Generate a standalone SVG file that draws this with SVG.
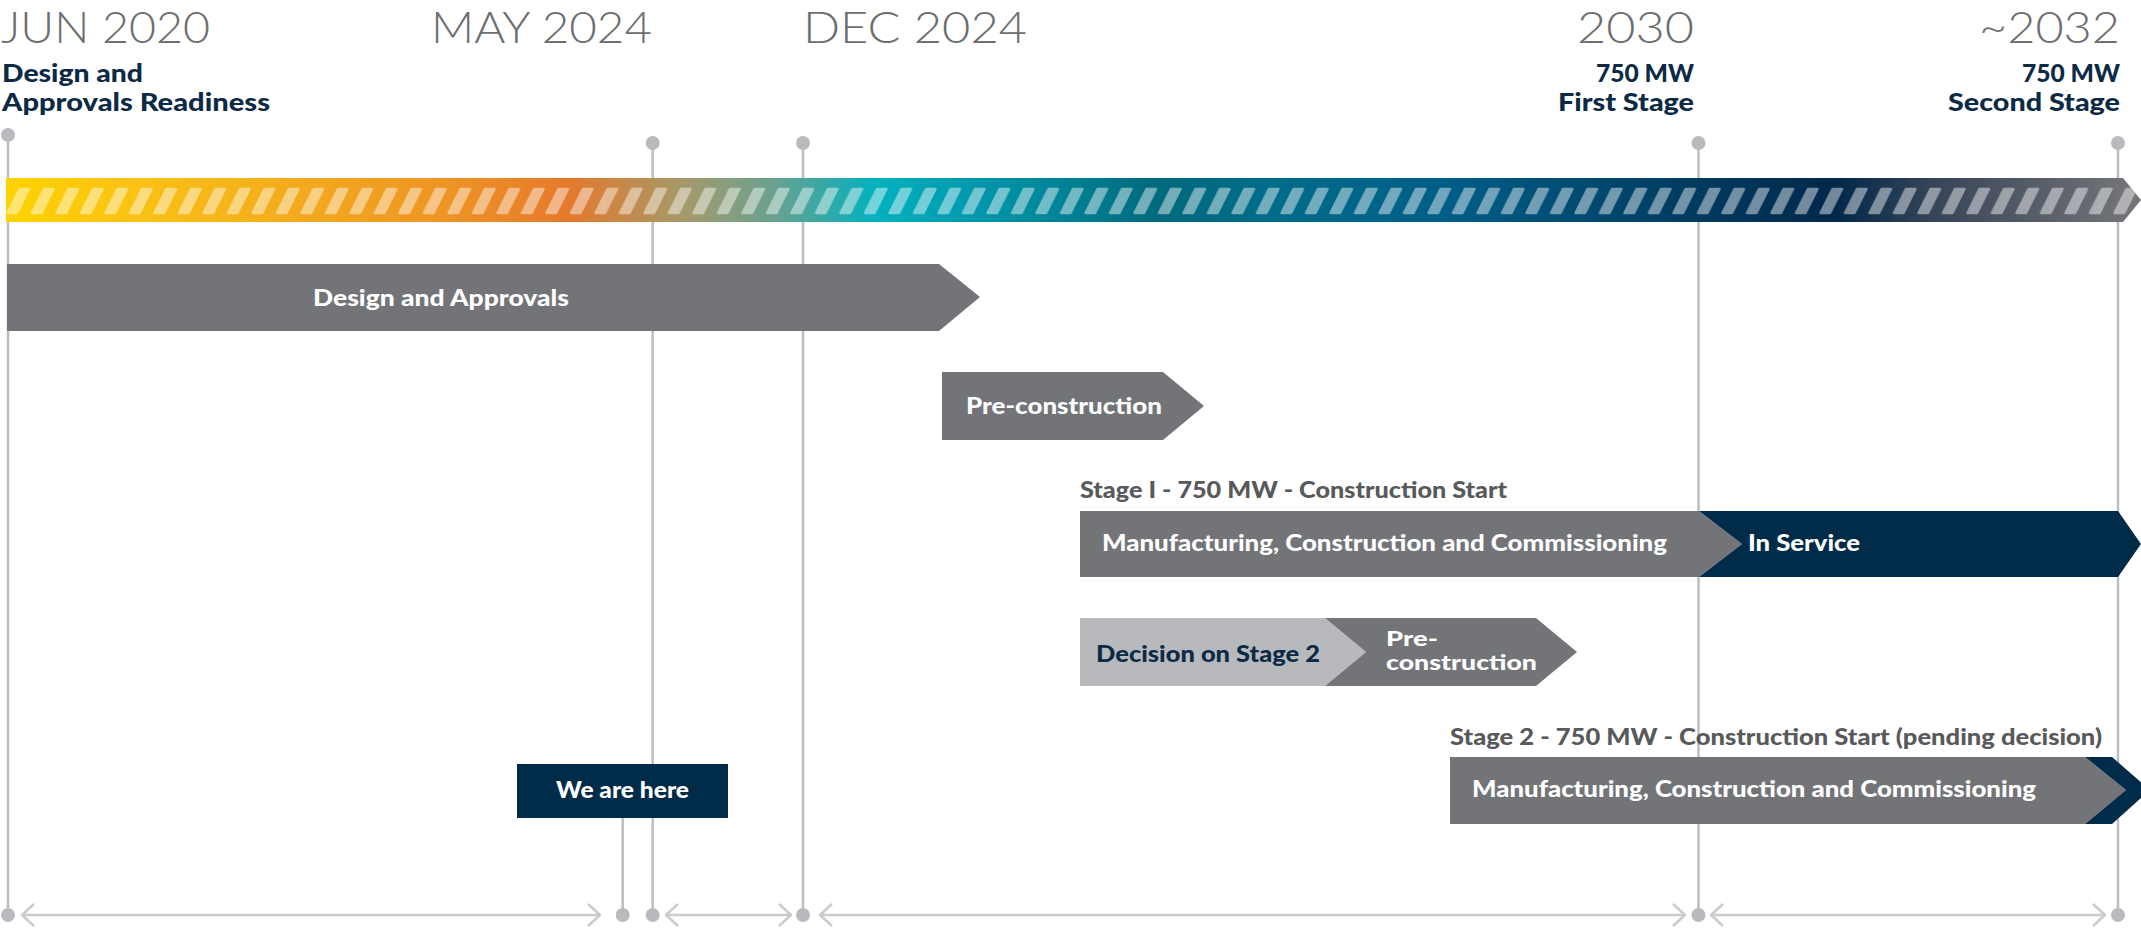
<svg xmlns="http://www.w3.org/2000/svg" width="2141" height="928" viewBox="0 0 2141 928">
<defs>
<style>
.yr{font-family:Lato,"Open Sans","Liberation Sans",sans-serif;font-weight:300;font-size:43px;fill:#6d6e71}
.hd{font-family:Lato,"Liberation Sans",sans-serif;font-weight:900;font-size:24px;fill:#0c2a45}
.bx{font-family:Lato,"Liberation Sans",sans-serif;font-weight:900;font-size:22px;fill:#ffffff}
.sm{font-size:20px}
.nv{fill:#0c2a45}
.lb{font-family:Lato,"Liberation Sans",sans-serif;font-weight:900;font-size:22px;fill:#58595b}
.vl{stroke:#bdbec1;stroke-width:2.5;fill:none}
.dot{fill:#b9babd}
.ar{stroke:#cbccce;stroke-width:2.5;fill:none;stroke-linejoin:round}
.dg{fill:#737478}
.lg{fill:#b8b9bc}
.nb{fill:#002b49}
</style>
<linearGradient id="tl" gradientUnits="userSpaceOnUse" x1="6" y1="0" x2="2141" y2="0">
<stop offset="0" stop-color="#ffd200"/>
<stop offset="0.06" stop-color="#f9c214"/>
<stop offset="0.206" stop-color="#ee9424"/>
<stop offset="0.263" stop-color="#e5792c"/>
<stop offset="0.319" stop-color="#a39a6c"/>
<stop offset="0.359" stop-color="#6aa18f"/>
<stop offset="0.408" stop-color="#00b1bf"/>
<stop offset="0.459" stop-color="#0095aa"/>
<stop offset="0.540" stop-color="#006a7c"/>
<stop offset="0.594" stop-color="#006c8a"/>
<stop offset="0.676" stop-color="#005d86"/>
<stop offset="0.779" stop-color="#003e63"/>
<stop offset="0.856" stop-color="#00284a"/>
<stop offset="0.904" stop-color="#384558"/>
<stop offset="0.990" stop-color="#707276"/>
<stop offset="1" stop-color="#737478"/>
</linearGradient>
<pattern id="stripes" patternUnits="userSpaceOnUse" x="6" y="178" width="24.5" height="44">
<path d="M1.5,35 L11,35 L23,11 L13.5,11 Z" fill="#ffffff" stroke="#ffffff" stroke-width="2.5" stroke-linejoin="round"/>
</pattern>
</defs>
<rect width="2141" height="928" fill="#ffffff"/>

<g id="connectors">
<line class="vl" x1="8" y1="135" x2="8" y2="915"/>
<line class="vl" x1="652.7" y1="143" x2="652.7" y2="915"/>
<line class="vl" x1="803" y1="143" x2="803" y2="915"/>
<line class="vl" x1="1698.5" y1="143" x2="1698.5" y2="915"/>
<line class="vl" x1="2118" y1="143" x2="2118" y2="915"/>
<line class="vl" x1="622.7" y1="818" x2="622.7" y2="915"/>
<path class="ar" d="M22,915 H600 M34,904 L22,915 L34,926 M588,904 L600,915 L588,926"/>
<path class="ar" d="M666,915 H791 M678,904 L666,915 L678,926 M779,904 L791,915 L779,926"/>
<path class="ar" d="M820,915 H1685 M832,904 L820,915 L832,926 M1673,904 L1685,915 L1673,926"/>
<path class="ar" d="M1711,915 H2105 M1723,904 L1711,915 L1723,926 M2093,904 L2105,915 L2093,926"/>
<circle class="dot" cx="8" cy="135" r="7"/>
<circle class="dot" cx="652.7" cy="143" r="7"/>
<circle class="dot" cx="803" cy="143" r="7"/>
<circle class="dot" cx="1698.5" cy="143" r="7"/>
<circle class="dot" cx="2118" cy="143" r="7"/>
<circle class="dot" cx="8" cy="915" r="7"/>
<circle class="dot" cx="622.7" cy="915" r="7"/>
<circle class="dot" cx="652.7" cy="915" r="7"/>
<circle class="dot" cx="803" cy="915" r="7"/>
<circle class="dot" cx="1698.5" cy="915" r="7"/>
<circle class="dot" cx="2118" cy="915" r="7"/>
</g>

<g id="milestone-jun2020">
<text class="yr" x="1" y="42.5" textLength="209" lengthAdjust="spacingAndGlyphs">JUN 2020</text>
<text class="hd" x="2" y="82" textLength="141" lengthAdjust="spacingAndGlyphs">Design and</text>
<text class="hd" x="2" y="111" textLength="268" lengthAdjust="spacingAndGlyphs">Approvals Readiness</text>
</g>
<g id="milestone-may2024">
<text class="yr" x="431" y="42.5" textLength="221" lengthAdjust="spacingAndGlyphs">MAY 2024</text>
</g>
<g id="milestone-dec2024">
<text class="yr" x="803" y="42.5" textLength="224" lengthAdjust="spacingAndGlyphs">DEC 2024</text>
</g>
<g id="milestone-2030">
<text class="yr" x="1577" y="42.5" textLength="117" lengthAdjust="spacingAndGlyphs">2030</text>
<text class="hd" x="1596" y="82" textLength="98" lengthAdjust="spacingAndGlyphs">750 MW</text>
<text class="hd" x="1558" y="111" textLength="136" lengthAdjust="spacingAndGlyphs">First Stage</text>
</g>
<g id="milestone-2032">
<text class="yr" x="1979" y="42.5" textLength="141" lengthAdjust="spacingAndGlyphs">~2032</text>
<text class="hd" x="2022" y="82" textLength="98" lengthAdjust="spacingAndGlyphs">750 MW</text>
<text class="hd" x="1948" y="111" textLength="172" lengthAdjust="spacingAndGlyphs">Second Stage</text>
</g>

<g id="timeline-bar">
<path d="M6,178 H2123 L2141,200 L2123,222 H6 Z" fill="url(#tl)"/>
<path d="M6,178 H2123 L2141,200 L2123,222 H6 Z" fill="url(#stripes)" opacity="0.45"/>
</g>

<g id="design-approvals">
<path class="dg" d="M7,264 H939 L980,297 L939,331 H7 Z"/>
<text class="bx" x="313" y="306" textLength="256" lengthAdjust="spacingAndGlyphs">Design and Approvals</text>
</g>

<g id="pre-construction">
<path class="dg" d="M942,372 H1163 L1204,406 L1163,440 H942 Z"/>
<text class="bx" x="966" y="414" textLength="196" lengthAdjust="spacingAndGlyphs">Pre-construction</text>
</g>

<g id="stage1">
<text class="lb" x="1080" y="498" textLength="427" lengthAdjust="spacingAndGlyphs">Stage I - 750 MW - Construction Start</text>
<path class="dg" d="M1080,511 H1699 L1742,544 L1699,577 H1080 Z"/>
<text class="bx" x="1102" y="551" textLength="565" lengthAdjust="spacingAndGlyphs">Manufacturing, Construction and Commissioning</text>
</g>

<g id="in-service">
<path class="nb" d="M1699,511 H2118 L2141,544 L2118,577 H1699 L1742,544 Z"/>
<text class="bx" x="1748" y="551" textLength="112" lengthAdjust="spacingAndGlyphs">In Service</text>
</g>

<g id="decision-stage2">
<path class="lg" d="M1080,618 H1325 L1366,652 L1325,686 H1080 Z"/>
<text class="bx nv" x="1096" y="662" textLength="224" lengthAdjust="spacingAndGlyphs">Decision on Stage 2</text>
</g>

<g id="pre-construction-2">
<path class="dg" d="M1325,618 H1536 L1577,652 L1536,686 H1325 L1366,652 Z"/>
<text class="bx sm" x="1386" y="646" textLength="52" lengthAdjust="spacingAndGlyphs">Pre-</text>
<text class="bx sm" x="1386" y="670" textLength="151" lengthAdjust="spacingAndGlyphs">construction</text>
</g>

<g id="we-are-here">
<rect class="nb" x="517" y="764" width="211" height="54"/>
<text class="bx" x="556" y="798" textLength="133" lengthAdjust="spacingAndGlyphs">We are here</text>
</g>

<g id="stage2">
<text class="lb" x="1450" y="745" textLength="652" lengthAdjust="spacingAndGlyphs">Stage 2 - 750 MW - Construction Start (pending decision)</text>
<path class="dg" d="M1450,757 H2085 L2126,790 L2085,824 H1450 Z"/>
<path class="nb" d="M2085,757 H2112 L2150,790 L2112,824 H2085 L2126,790 Z"/>
<text class="bx" x="1472" y="797" textLength="564" lengthAdjust="spacingAndGlyphs">Manufacturing, Construction and Commissioning</text>
</g>
</svg>
